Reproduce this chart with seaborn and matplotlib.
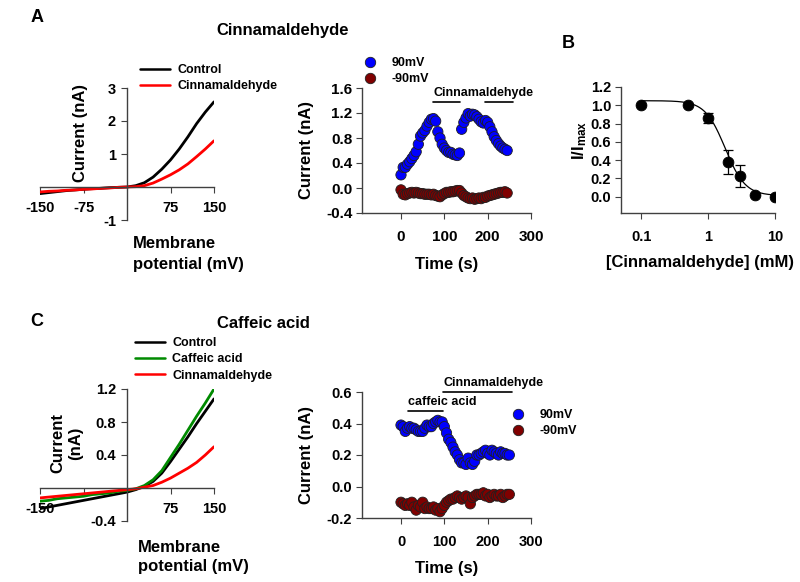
import matplotlib
matplotlib.use("Agg")
import matplotlib.pyplot as plt
from matplotlib.lines import Line2D
import numpy as np
import pandas as pd
import seaborn as sns

# %% data
# panel A, I-V curves (mV -> nA)
iv_a_mv = [-150, -135, -120, -105, -90, -75, -60, -45, -30, -15, 0, 15, 30, 45, 60, 75, 90, 105, 120, 135, 150]
iv_a_control = [-0.20, -0.17, -0.14, -0.11, -0.09, -0.07, -0.05, -0.04, -0.02, -0.01, 0.0,
                 0.04, 0.13, 0.30, 0.54, 0.82, 1.15, 1.52, 1.92, 2.27, 2.58]
iv_a_cinn = [-0.15, -0.13, -0.12, -0.10, -0.09, -0.07, -0.06, -0.04, -0.03, -0.01, 0.0,
             0.01, 0.04, 0.12, 0.24, 0.37, 0.52, 0.70, 0.92, 1.15, 1.40]

# panel A, time course
time_a = list(range(0, 250, 5))
pos_a = [0.21, 0.33, 0.33, 0.38, 0.42, 0.47, 0.52, 0.58, 0.70, 0.83, 0.88, 0.92, 0.99, 1.05, 1.10, 1.11,
         1.07, 0.90, 0.80, 0.70, 0.64, 0.60, 0.57, 0.57, 0.54, 0.53, 0.52, 0.56, 0.94, 1.05, 1.12, 1.19,
         1.15, 1.18, 1.17, 1.14, 1.10, 1.06, 1.04, 1.08, 1.05, 0.98, 0.90, 0.82, 0.76, 0.71, 0.67, 0.64,
         0.62, 0.60]
neg_a = [-0.03, -0.10, -0.11, -0.09, -0.08, -0.07, -0.08, -0.07, -0.08, -0.09, -0.09, -0.10, -0.10,
         -0.10, -0.11, -0.10, -0.12, -0.13, -0.14, -0.11, -0.09, -0.07, -0.07, -0.06, -0.06, -0.05,
         -0.04, -0.04, -0.08, -0.12, -0.14, -0.16, -0.17, -0.16, -0.18, -0.17, -0.16, -0.17, -0.15,
         -0.15, -0.13, -0.12, -0.11, -0.10, -0.09, -0.08, -0.07, -0.07, -0.06, -0.08]

# panel B, dose response
conc_b = [0.1, 0.5, 1, 2, 3, 5, 10]
frac_b = [1.0, 1.0, 0.86, 0.38, 0.23, 0.02, 0.0]
err_b = [0.0, 0.0, 0.05, 0.13, 0.12, 0.0, 0.0]
hill_top, hill_bottom, hill_ic50, hill_n = 1.05, 0.01, 1.8, 2.9

# panel C, I-V curves
iv_c_mv = [-150, -135, -120, -105, -90, -75, -60, -45, -30, -15, 0, 15, 30, 45, 60, 75, 90, 105, 120, 135, 150]
iv_c_control = [-0.25, -0.23, -0.21, -0.19, -0.17, -0.15, -0.13, -0.11, -0.09, -0.07, -0.05,
                -0.02, 0.02, 0.08, 0.18, 0.32, 0.47, 0.62, 0.78, 0.93, 1.08]
iv_c_caffeic = [-0.16, -0.15, -0.13, -0.12, -0.11, -0.10, -0.08, -0.07, -0.06, -0.04, -0.03,
                -0.01, 0.03, 0.10, 0.21, 0.37, 0.53, 0.70, 0.87, 1.03, 1.20]
iv_c_cinn = [-0.12, -0.11, -0.10, -0.09, -0.08, -0.07, -0.06, -0.05, -0.04, -0.03, -0.02,
             -0.01, 0.01, 0.03, 0.07, 0.12, 0.18, 0.24, 0.31, 0.40, 0.50]

# panel C, time course
time_c = list(range(0, 255, 5))
pos_c = [0.39, 0.38, 0.35, 0.37, 0.38, 0.37, 0.37, 0.36, 0.35, 0.35, 0.35, 0.37, 0.39, 0.38, 0.38,
         0.40, 0.41, 0.42, 0.41, 0.41, 0.38, 0.34, 0.30, 0.28, 0.25, 0.22, 0.20, 0.17, 0.15, 0.15,
         0.14, 0.18, 0.15, 0.14, 0.16, 0.20, 0.20, 0.21, 0.22, 0.23, 0.21, 0.20, 0.23, 0.22, 0.21,
         0.20, 0.22, 0.21, 0.21, 0.20, 0.20]
neg_c = [-0.10, -0.11, -0.12, -0.11, -0.12, -0.10, -0.13, -0.15, -0.12, -0.13, -0.10, -0.14, -0.13,
         -0.14, -0.14, -0.13, -0.15, -0.14, -0.16, -0.14, -0.12, -0.10, -0.09, -0.08, -0.08, -0.07,
         -0.06, -0.07, -0.08, -0.07, -0.06, -0.07, -0.11, -0.07, -0.06, -0.05, -0.05, -0.05, -0.04,
         -0.06, -0.05, -0.07, -0.06, -0.05, -0.06, -0.06, -0.05, -0.07, -0.06, -0.05, -0.05]

# %% style
sns.set_style("ticks")
plt.rcParams['font.family'] = ['Liberation Sans', 'DejaVu Sans']
plt.rcParams['font.weight'] = 'bold'
plt.rcParams['axes.labelweight'] = 'bold'
plt.rcParams['text.color'] = 'black'
plt.rcParams['axes.labelcolor'] = 'black'
plt.rcParams['axes.unicode_minus'] = False
plt.rcParams['mathtext.fontset'] = 'custom'
plt.rcParams['mathtext.rm'] = 'Liberation Sans:bold'
plt.rcParams['mathtext.it'] = 'Liberation Sans:bold'
plt.rcParams['axes.edgecolor'] = '#404040'
plt.rcParams['axes.linewidth'] = 1.0
plt.rcParams['xtick.color'] = '#404040'
plt.rcParams['ytick.color'] = '#404040'
plt.rcParams['xtick.labelcolor'] = 'black'
plt.rcParams['ytick.labelcolor'] = 'black'

W, H = 800, 582
fig = plt.figure(figsize=(8, 5.82), dpi=100)


def box(left, right, bottom, top):
    return [left / W, 1 - bottom / H, (right - left) / W, (bottom - top) / H]


def ftext(x, y, s, **kw):
    fig.text(x / W, 1 - y / H, s, **kw)


def iv_axes(ax, xt, yt, ylim):
    ax.set_xlim(-150, 150)
    ax.set_ylim(*ylim)
    ax.spines['left'].set_position(('data', 0))
    ax.spines['bottom'].set_position(('data', 0))
    ax.spines['top'].set_visible(False)
    ax.spines['right'].set_visible(False)
    ax.set_xticks(xt)
    ax.set_yticks(yt)
    ax.tick_params(axis='x', length=4, pad=6, labelsize=10.5)
    ax.tick_params(axis='y', length=4, pad=4, labelsize=10.5)
    ax.set_xlabel('')
    ax.set_ylabel('')


def time_axes(ax, ylim, yt, ls=10.5):
    ax.set_xlim(-90, 300)
    ax.set_ylim(*ylim)
    sns.despine(ax=ax)
    ax.set_xticks([0, 100, 200, 300])
    ax.set_yticks(yt)
    ax.tick_params(axis='x', length=4, pad=8, labelsize=ls)
    ax.tick_params(axis='y', length=4, pad=3, labelsize=ls)
    ax.set_xlabel('')
    ax.set_ylabel('')


# %% panel A: I-V
axA = fig.add_axes(box(40, 214, 220, 88))
df = pd.DataFrame({'mV': iv_a_mv * 2, 'nA': iv_a_control + iv_a_cinn,
                   'trace': ['Control'] * len(iv_a_mv) + ['Cinnamaldehyde'] * len(iv_a_mv)})
sns.lineplot(data=df, x='mV', y='nA', hue='trace', palette={'Control': 'black', 'Cinnamaldehyde': '#ff0000'},
             lw=2, sort=False, ax=axA, legend=False)
iv_axes(axA, [-150, -75, 75, 150], [-1, 1, 2, 3], (-1, 3))
axA.set_xticklabels(['-150', '-75', '75', '150'])
axA.set_yticklabels(['-1', '1', '2', '3'])
axA.legend([Line2D([], [], color='black', lw=1.8), Line2D([], [], color='#ff0000', lw=1.8)],
           ['Control', 'Cinnamaldehyde'], loc='upper left', bbox_to_anchor=(140 / W, 1 - 64 / H),
           bbox_transform=fig.transFigure, frameon=False, fontsize=9, borderpad=0, borderaxespad=0,
           handlelength=2.4, handletextpad=0.6, labelspacing=0.35)
ftext(80, 133, 'Current (nA)', rotation=90, ha='center', va='center', fontsize=12)
ftext(133, 243, 'Membrane', ha='left', va='center', fontsize=12)
ftext(133, 265, 'potential (mV)', ha='left', va='center', fontsize=12)

# %% panel A: time course
axAt = fig.add_axes(box(362, 531, 213, 88))
dft = pd.DataFrame({'t': time_a * 2, 'I': pos_a + neg_a,
                    'V': ['90mV'] * len(time_a) + ['-90mV'] * len(time_a)})
sns.scatterplot(data=dft, x='t', y='I', hue='V', palette={'90mV': '#0000ff', '-90mV': '#800000'},
                s=55, edgecolor='#202020', linewidth=0.6, ax=axAt, legend=False, zorder=3)
time_axes(axAt, (-0.4, 1.6), [-0.4, 0.0, 0.4, 0.8, 1.2, 1.6], ls=11)
axAt.set_yticklabels(['-0.4', '0.0', '0.4', '0.8', '1.2', '1.6'])
mk = dict(marker='o', ls='', markersize=7.5, markeredgecolor='#202020', markeredgewidth=0.6)
axAt.legend([Line2D([], [], markerfacecolor='#0000ff', **mk), Line2D([], [], markerfacecolor='#800000', **mk)],
            ['90mV', '-90mV'], loc='upper left', bbox_to_anchor=(364 / W, 1 - 57 / H),
            bbox_transform=fig.transFigure, frameon=False, fontsize=9, borderpad=0, borderaxespad=0,
            handlelength=1.0, handletextpad=1.2, labelspacing=0.35)
axAt.plot([74, 136], [1.38, 1.38], color='black', lw=1.2, clip_on=False)
axAt.plot([194, 259], [1.38, 1.38], color='black', lw=1.2, clip_on=False)
axAt.text(74, 1.43, 'Cinnamaldehyde', ha='left', va='bottom', fontsize=9)
ftext(307, 150, 'Current (nA)', rotation=90, ha='center', va='center', fontsize=12)
ftext(447, 265, 'Time (s)', ha='center', va='center', fontsize=12)

# %% panel B: dose response
axB = fig.add_axes(box(621, 775, 213, 87))
axB.set_xscale('log')
xs = np.logspace(-1, 1, 200)
axB.plot(xs, hill_bottom + (hill_top - hill_bottom) / (1 + (xs / hill_ic50) ** hill_n), color='black', lw=0.9)
axB.errorbar(conc_b, frac_b, yerr=err_b, fmt='none', ecolor='black', elinewidth=0.9, capsize=3.5, capthick=0.9)
sns.scatterplot(x=conc_b, y=frac_b, color='black', s=60, edgecolor='black', ax=axB, zorder=3)
axB.set_xlim(0.05, 10)
axB.set_ylim(-0.18, 1.2)
sns.despine(ax=axB)
axB.set_xticks([0.1, 1, 10])
axB.set_xticklabels(['0.1', '1', '10'])
axB.xaxis.set_minor_locator(matplotlib.ticker.NullLocator())
axB.set_yticks([0.0, 0.2, 0.4, 0.6, 0.8, 1.0, 1.2])
axB.set_yticklabels(['0.0', '0.2', '0.4', '0.6', '0.8', '1.0', '1.2'])
axB.tick_params(axis='x', length=4, pad=8, labelsize=10.5)
axB.tick_params(axis='y', length=4, pad=3, labelsize=10.5)
ftext(580, 140, r'I/I$_{\rm max}$', rotation=90, ha='center', va='center', fontsize=12)
ftext(700, 262, '[Cinnamaldehyde] (mM)', ha='center', va='center', fontsize=12)

# %% panel C: I-V
axC = fig.add_axes(box(40, 214, 521, 389))
dfc = pd.DataFrame({'mV': iv_c_mv * 3, 'nA': iv_c_control + iv_c_caffeic + iv_c_cinn,
                    'trace': ['Control'] * len(iv_c_mv) + ['Caffeic acid'] * len(iv_c_mv)
                    + ['Cinnamaldehyde'] * len(iv_c_mv)})
sns.lineplot(data=dfc, x='mV', y='nA', hue='trace',
             palette={'Control': 'black', 'Caffeic acid': '#008a00', 'Cinnamaldehyde': '#ff0000'},
             lw=2, sort=False, ax=axC, legend=False)
iv_axes(axC, [-150, -75, 75, 150], [-0.4, 0.4, 0.8, 1.2], (-0.4, 1.2))
axC.set_xticklabels(['-150', '', '75', '150'])
axC.set_yticklabels(['-0.4', '0.4', '0.8', '1.2'])
axC.legend([Line2D([], [], color=c, lw=1.8) for c in ['black', '#008a00', '#ff0000']],
           ['Control', 'Caffeic acid', 'Cinnamaldehyde'], loc='upper left',
           bbox_to_anchor=(135 / W, 1 - 337 / H), bbox_transform=fig.transFigure, frameon=False,
           fontsize=9, borderpad=0, borderaxespad=0, handlelength=2.4, handletextpad=0.6, labelspacing=0.35)
ftext(58, 443, 'Current', rotation=90, ha='center', va='center', fontsize=12)
ftext(76, 443, '(nA)', rotation=90, ha='center', va='center', fontsize=12)
ftext(138, 548, 'Membrane', ha='left', va='center', fontsize=12)
ftext(138, 567, 'potential (mV)', ha='left', va='center', fontsize=12)

# %% panel C: time course
axCt = fig.add_axes(box(362, 531, 518, 392))
dfct = pd.DataFrame({'t': time_c * 2, 'I': pos_c + neg_c,
                     'V': ['90mV'] * len(time_c) + ['-90mV'] * len(time_c)})
sns.scatterplot(data=dfct, x='t', y='I', hue='V', palette={'90mV': '#0000ff', '-90mV': '#800000'},
                s=55, edgecolor='#202020', linewidth=0.6, ax=axCt, legend=False, zorder=3)
time_axes(axCt, (-0.2, 0.6), [-0.2, 0.0, 0.2, 0.4, 0.6])
axCt.set_yticklabels(['-0.2', '0.0', '0.2', '0.4', '0.6'])
axCt.legend([Line2D([], [], markerfacecolor='#0000ff', **mk), Line2D([], [], markerfacecolor='#800000', **mk)],
            ['90mV', '-90mV'], loc='upper left', bbox_to_anchor=(512 / W, 1 - 409 / H),
            bbox_transform=fig.transFigure, frameon=False, fontsize=9, borderpad=0, borderaxespad=0,
            handlelength=1.0, handletextpad=1.2, labelspacing=0.35)
axCt.plot([97, 256], [0.6, 0.6], color='black', lw=1.2, clip_on=False)
axCt.plot([15, 97], [0.48, 0.48], color='black', lw=1.2, clip_on=False)
axCt.text(97, 0.62, 'Cinnamaldehyde', ha='left', va='bottom', fontsize=9)
axCt.text(15, 0.50, 'caffeic acid', ha='left', va='bottom', fontsize=9)
ftext(307, 455, 'Current (nA)', rotation=90, ha='center', va='center', fontsize=12)
ftext(447, 568, 'Time (s)', ha='center', va='center', fontsize=12)

# %% titles and panel letters
ftext(283, 30, 'Cinnamaldehyde', ha='center', va='center', fontsize=12)
ftext(263, 323, 'Caffeic acid', ha='center', va='center', fontsize=12)
ftext(37, 18, 'A', ha='center', va='center', fontsize=13)
ftext(568, 44, 'B', ha='center', va='center', fontsize=13)
ftext(37, 321, 'C', ha='center', va='center', fontsize=13)

fig.savefig('out.png', dpi=100)
